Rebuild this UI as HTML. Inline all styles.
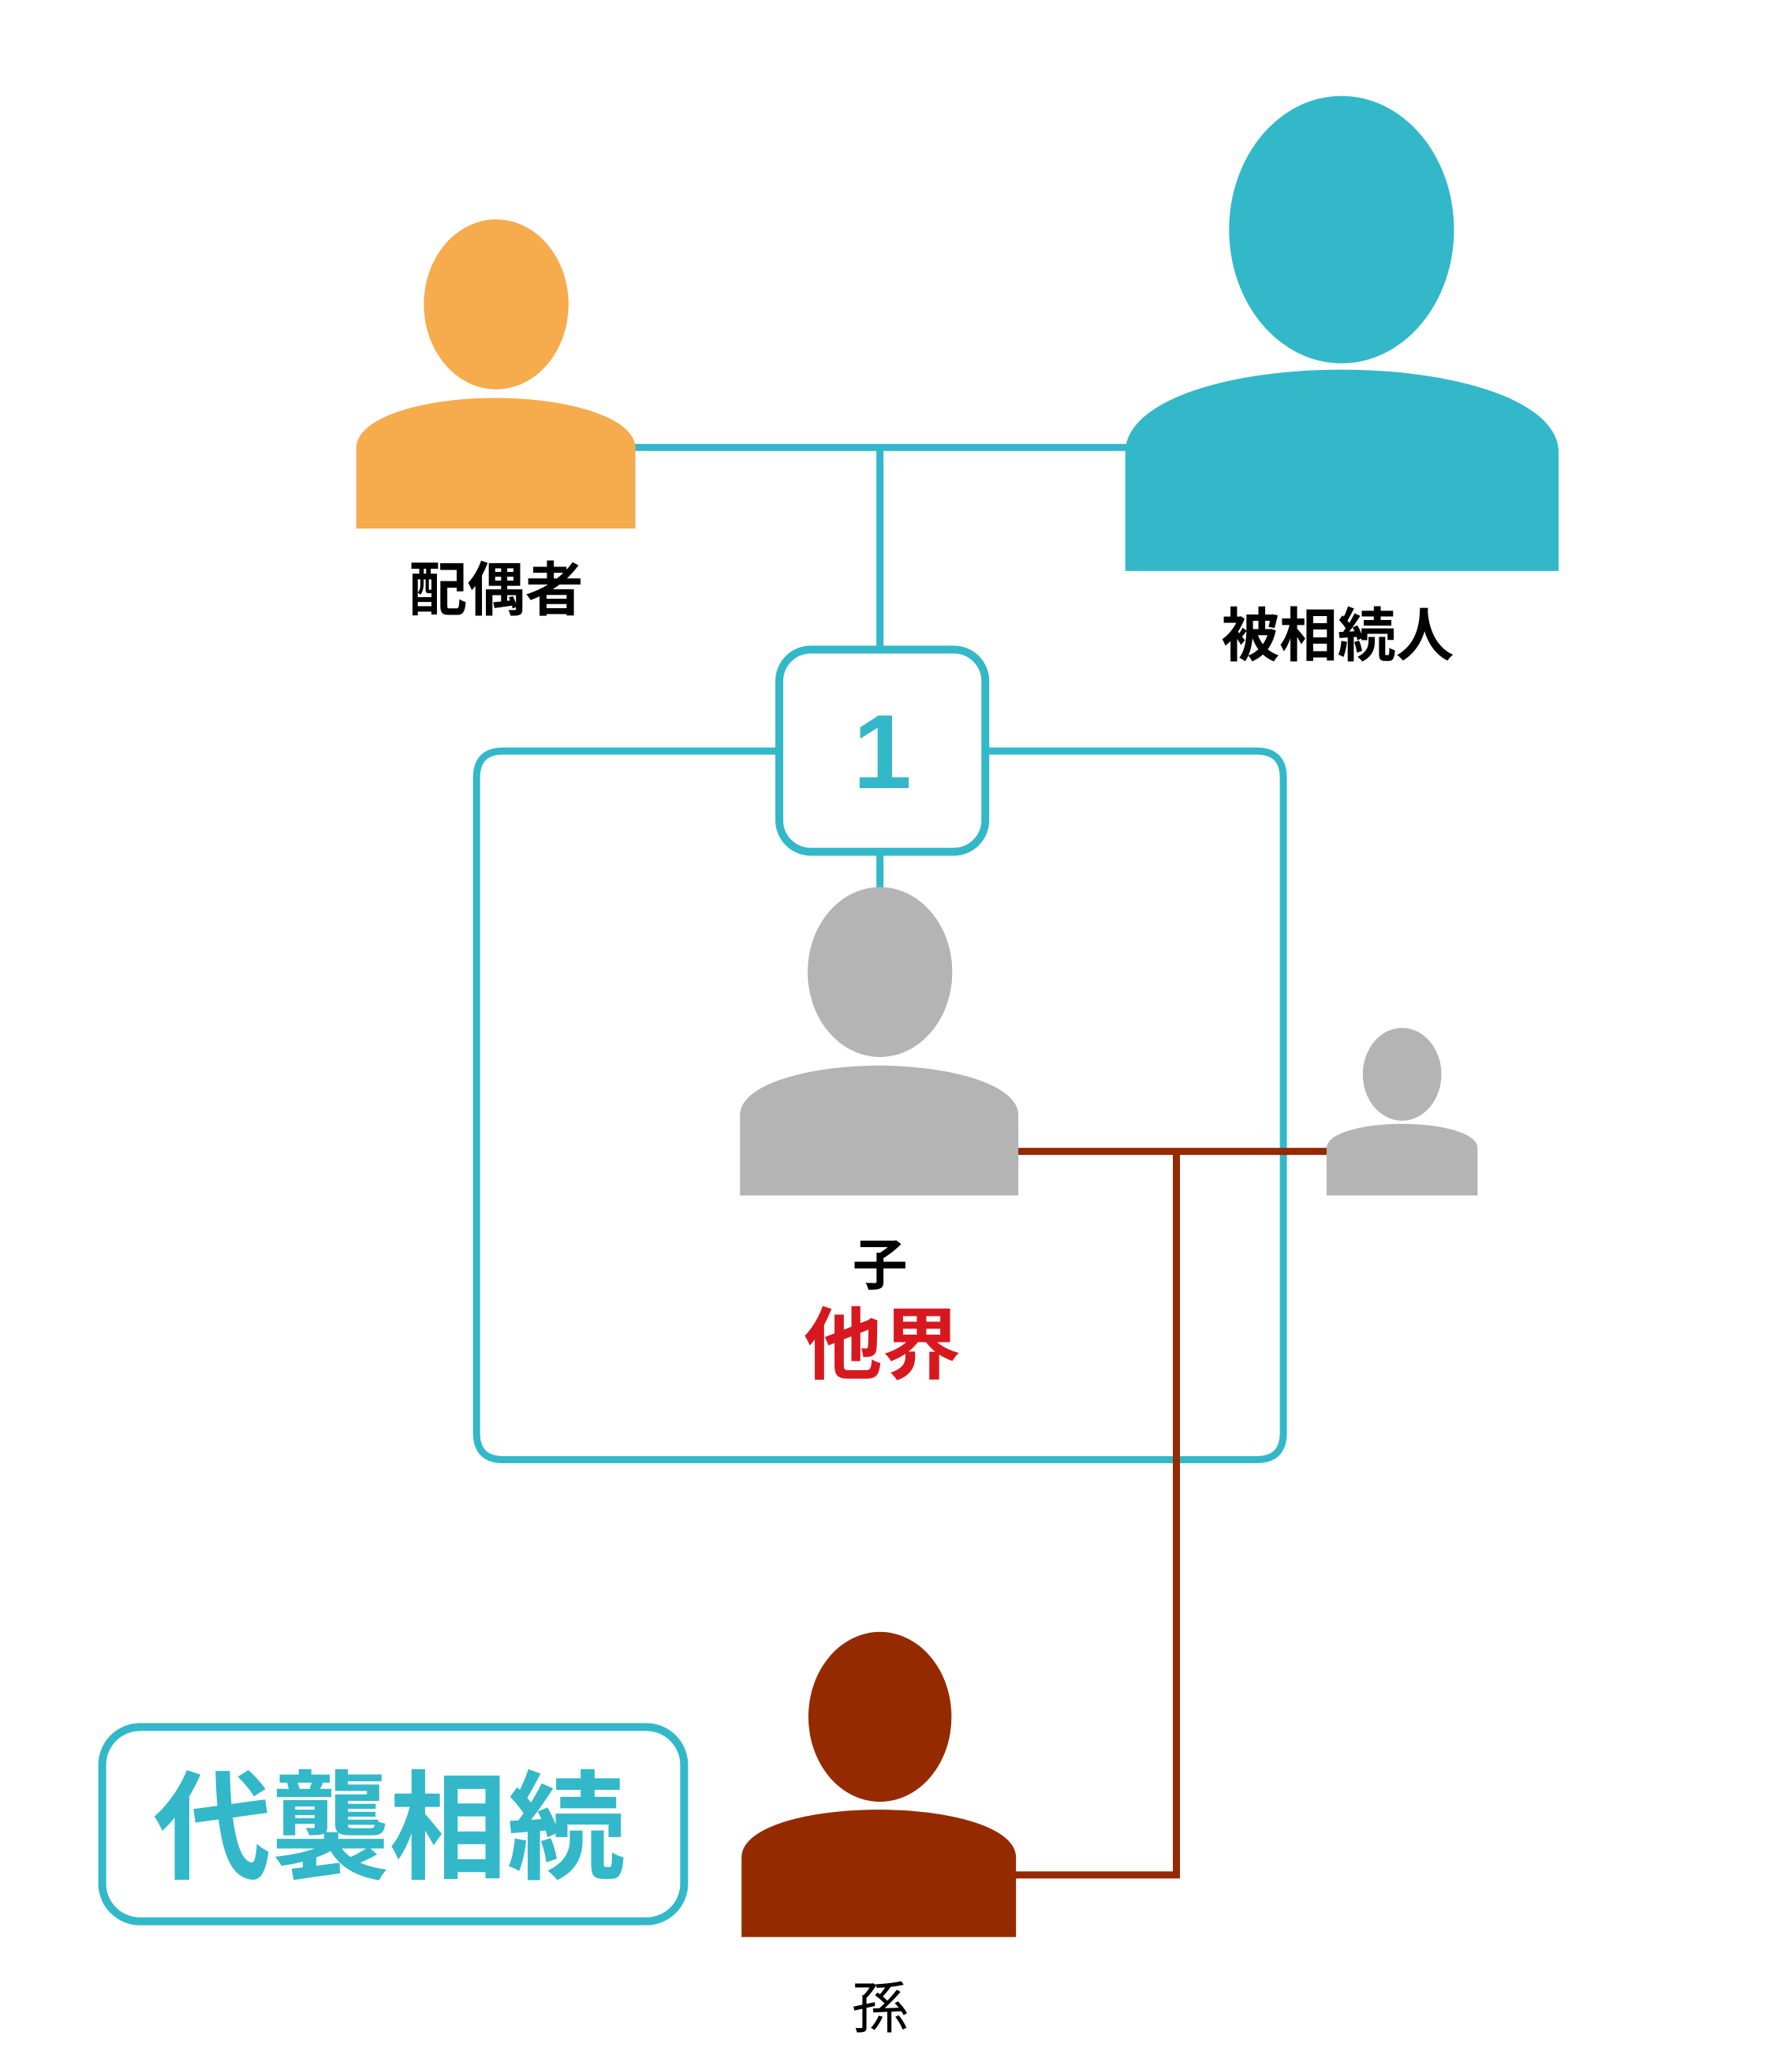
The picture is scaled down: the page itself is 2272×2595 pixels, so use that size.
<!DOCTYPE html>
<html><head><meta charset="utf-8"><style>
html,body{margin:0;padding:0;background:#fff;}
svg{display:block;}
text{font-family:"Liberation Sans","Noto Sans CJK JP",sans-serif;}
</style></head><body>
<svg width="2272" height="2595" viewBox="0 0 2272 2595" xmlns="http://www.w3.org/2000/svg">
<rect width="2272" height="2595" fill="#fff"/>
<g transform="scale(0.997)">
<g stroke="#32b8c9" stroke-width="9" fill="none">
<line x1="800" y1="569" x2="1440" y2="569"/>
<line x1="1119" y1="569" x2="1119" y2="826"/>
<line x1="1119" y1="1083" x2="1119" y2="1135"/>
<path d="M991,955 H640 Q606,955 606,989 V1822 Q606,1856 640,1856 H1598 Q1632,1856 1632,1822 V989 Q1632,955 1598,955 H1253"/>
<rect x="991" y="826" width="262" height="257" rx="40" ry="40" stroke-width="10"/>
<rect x="130" y="2196" width="740" height="247" rx="48" ry="48" stroke-width="10"/>
</g>
<g stroke="#952a00" stroke-width="9" fill="none">
<line x1="1290" y1="1464" x2="1692" y2="1464"/>
<polyline points="1496,1464 1496,2384 1285,2384"/>
</g>
<ellipse cx="631" cy="387" rx="92" ry="108" fill="#f6ab4c"/>
<path d="M453,672 V570 C453,530 540,506 630,506 C720,506 808,530 808,570 V672 Z" fill="#f6ab4c"/>
<ellipse cx="1706" cy="292" rx="143" ry="170" fill="#32b8c9"/>
<path d="M1431,726 V575 C1431,510 1560,470 1706,470 C1852,470 1982,510 1982,575 V726 Z" fill="#32b8c9"/>
<ellipse cx="1119" cy="1236" rx="92" ry="108" fill="#b4b4b4"/>
<path d="M941,1520 V1418 C941,1378 1030,1355 1118,1355 C1206,1355 1295,1378 1295,1418 V1520 Z" fill="#b4b4b4"/>
<ellipse cx="1783" cy="1366" rx="50" ry="59" fill="#b4b4b4"/>
<path d="M1687,1520 V1460 C1687,1440 1735,1429 1783,1429 C1831,1429 1879,1440 1879,1460 V1520 Z" fill="#b4b4b4"/>
<ellipse cx="1119" cy="2183" rx="91" ry="108" fill="#952a00"/>
<path d="M943,2463 V2362 C943,2322 1030,2301 1117,2301 C1204,2301 1292,2322 1292,2362 V2463 Z" fill="#952a00"/>
<text x="631" y="776" font-size="74" font-weight="bold" text-anchor="middle">配偶者</text>
<text x="1701" y="834" font-size="74" font-weight="bold" text-anchor="middle">被相続人</text>
<text x="1122" y="1002" font-size="134" font-weight="bold" fill="#32b8c9" text-anchor="middle">1</text>
<text x="1119" y="1633" font-size="70" font-weight="bold" text-anchor="middle">子</text>
<text x="1122" y="1745" font-size="100" font-weight="bold" fill="#d7191f" text-anchor="middle">他界</text>
<text x="1119" y="2578" font-size="72" text-anchor="middle">孫</text>
<text x="495" y="2377" font-size="150" font-weight="bold" fill="#32b8c9" text-anchor="middle">代襲相続</text>
</g>
</svg>
</body></html>
